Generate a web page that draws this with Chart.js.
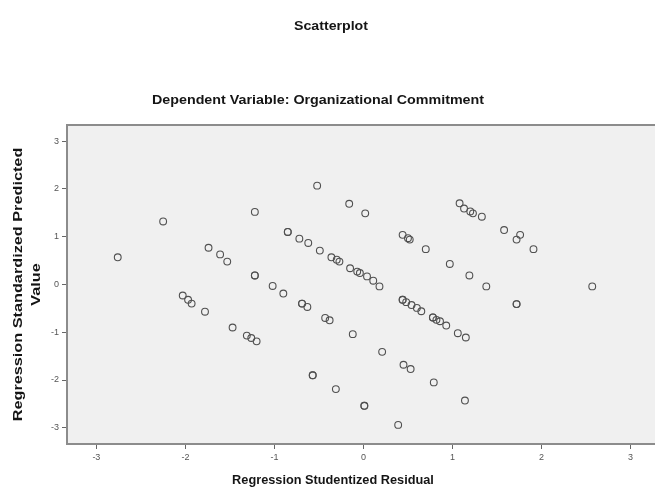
<!DOCTYPE html>
<html>
<head>
<meta charset="utf-8">
<script src="https://cdn.jsdelivr.net/npm/chart.js@4.4.1/dist/chart.umd.min.js"></script>
<style>
  html, body { margin: 0; padding: 0; background: #fff; overflow: hidden; }
  #wrap { width: 665px; height: 495px; }
</style>
</head>
<body>
<div id="wrap"><canvas id="grafico" width="665" height="495"></canvas></div>
<script>
// Regression Studentized Residual (x) vs Regression Standardized Predicted Value (y)
const residuos = [
  // linha inferior esquerda
  -2.76, -2.03, -1.97, -1.93, -1.78, -1.47, -1.31, -1.26, -1.20, -0.57, -0.57, -0.31, 0.01, 0.01, 0.39,
  // segunda linha
  -2.25, -1.74, -1.61, -1.53, -1.22, -1.22, -1.02, -0.90, -0.69, -0.69, -0.63, -0.43, -0.38, -0.12, 0.21, 0.45, 0.53, 0.79, 1.14,
  // linha central
  -1.22, -0.85, -0.85, -0.72, -0.62, -0.49, -0.36, -0.30, -0.27, -0.15, -0.07, -0.04, 0.04, 0.11, 0.18,
  0.44, 0.44, 0.48, 0.54, 0.60, 0.65, 0.78, 0.78, 0.82, 0.86, 0.93, 1.06, 1.15,
  // linha superior
  -0.52, -0.16, 0.02, 0.44, 0.50, 0.52, 0.70, 0.97, 1.19, 1.38, 1.72, 1.72,
  // linha da direita
  1.08, 1.13, 1.20, 1.23, 1.33, 1.58, 1.76, 1.72, 1.91, 2.57
];
const previstos = [
  0.57, -0.23, -0.32, -0.40, -0.57, -0.90, -1.07, -1.12, -1.19, -1.90, -1.90, -2.19, -2.54, -2.54, -2.94,
  1.32, 0.77, 0.63, 0.48, 0.19, 0.19, -0.03, -0.19, -0.40, -0.40, -0.47, -0.70, -0.75, -1.04, -1.41, -1.68, -1.77, -2.05, -2.43,
  1.52, 1.10, 1.10, 0.96, 0.87, 0.71, 0.57, 0.52, 0.48, 0.34, 0.27, 0.24, 0.17, 0.08, -0.04,
  -0.32, -0.32, -0.37, -0.43, -0.49, -0.56, -0.69, -0.69, -0.74, -0.77, -0.86, -1.02, -1.11,
  2.07, 1.69, 1.49, 1.04, 0.97, 0.94, 0.74, 0.43, 0.19, -0.04, -0.41, -0.41,
  1.70, 1.59, 1.53, 1.49, 1.42, 1.14, 1.04, 0.94, 0.74, -0.04
];
const ticksEixo = [-3, -2, -1, 0, 1, 2, 3];

const pontos = residuos.map((x, i) => ({ x: x, y: previstos[i] }));

const FAMILIA = "Liberation Sans, Arial, sans-serif";

// fundo cinza e moldura da area do grafico
const fundoArea = {
  id: "fundoArea",
  beforeDraw(chart) {
    const { ctx, chartArea: a } = chart;
    ctx.save();
    ctx.fillStyle = "#f0f0f0";
    ctx.fillRect(a.left, a.top, a.right - a.left, a.bottom - a.top);
    ctx.restore();
  },
  afterDraw(chart) {
    const { ctx, chartArea: a } = chart;
    ctx.save();
    ctx.strokeStyle = "#8c8c8c";
    ctx.lineWidth = 2;
    ctx.strokeRect(a.left, a.top, a.right - a.left, a.bottom - a.top);
    ctx.restore();
  }
};

// titulos desenhados como no SPSS (texto um pouco esticado)
function textoEsticado(ctx, texto, x, y, tamanho, esticar, rotacao) {
  ctx.save();
  ctx.translate(x, y);
  if (rotacao) ctx.rotate(rotacao);
  ctx.scale(esticar, 1);
  ctx.font = "bold " + tamanho + "px " + FAMILIA;
  ctx.fillStyle = "#151515";
  ctx.textAlign = "center";
  ctx.textBaseline = "middle";
  ctx.fillText(texto, 0, 0);
  ctx.restore();
}

const titulos = {
  id: "titulos",
  afterDraw(chart) {
    const ctx = chart.ctx;
    const a = chart.chartArea;
    const meioY = (a.top + a.bottom) / 2;
    textoEsticado(ctx, "Scatterplot", 331, 27, 12, 1.18, 0);
    textoEsticado(ctx, "Dependent Variable: Organizational Commitment", 318, 100, 13, 1.1, 0);
    textoEsticado(ctx, "Regression Studentized Residual", 333, 480, 13, 0.98, 0);
    textoEsticado(ctx, "Regression Standardized Predicted", 18, meioY, 13, 1.25, -Math.PI / 2);
    textoEsticado(ctx, "Value", 36, meioY, 13, 1.25, -Math.PI / 2);
  }
};

new Chart(document.getElementById("grafico"), {
  type: "scatter",
  data: {
    datasets: [{
      data: pontos,
      pointRadius: 3.4,
      pointBorderWidth: 1.1,
      pointBorderColor: "#505050",
      pointBackgroundColor: "rgba(0,0,0,0)"
    }]
  },
  options: {
    responsive: false,
    animation: false,
    layout: { padding: { top: 125, right: 5, left: 0, bottom: 0 } },
    plugins: {
      legend: { display: false },
      tooltip: { enabled: false }
    },
    scales: {
      x: {
        type: "linear",
        min: -3.33,
        max: 3.33,
        afterBuildTicks: s => { s.ticks = ticksEixo.map(v => ({ value: v })); },
        afterFit: s => { s.height = 51; },
        grid: { drawOnChartArea: false, drawTicks: true, tickLength: 5, color: "#666" },
        border: { display: false },
        ticks: { color: "#555", font: { family: FAMILIA, size: 9 }, padding: 3, maxRotation: 0 }
      },
      y: {
        type: "linear",
        min: -3.34,
        max: 3.34,
        afterBuildTicks: s => { s.ticks = ticksEixo.map(v => ({ value: v })); },
        afterFit: s => { s.width = 67; },
        grid: { drawOnChartArea: false, drawTicks: true, tickLength: 5, color: "#666" },
        border: { display: false },
        ticks: { color: "#555", font: { family: FAMILIA, size: 9 }, padding: 3 }
      }
    }
  },
  plugins: [fundoArea, titulos]
});
</script>
</body>
</html>
